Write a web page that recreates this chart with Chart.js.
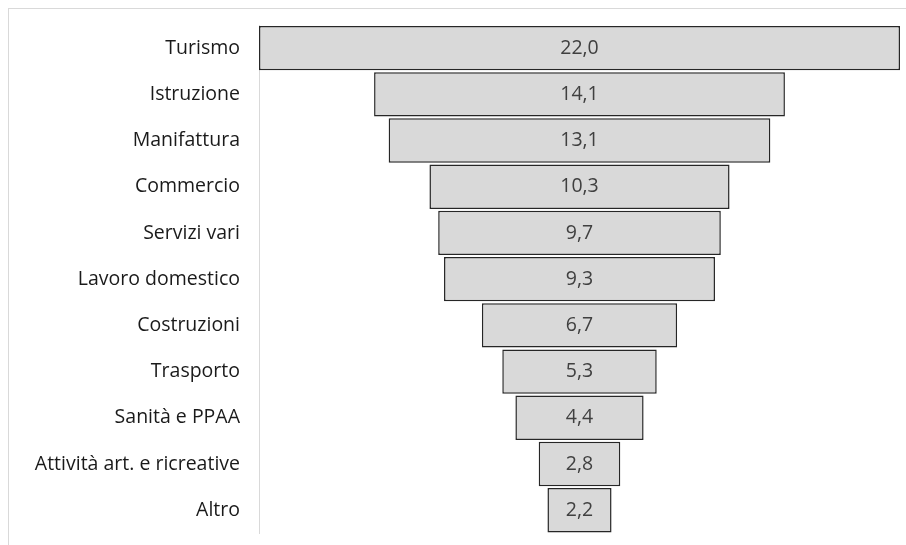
<!DOCTYPE html>
<html>
<head>
<meta charset="utf-8">
<script src="https://cdn.jsdelivr.net/npm/chart.js@4/dist/chart.umd.min.js"></script>
<style>
  html, body { margin: 0; padding: 0; background: #fff; }
  #wrap { width: 906px; height: 545px; position: relative; }
</style>
</head>
<body>
<div id="wrap"><canvas id="c" width="906" height="545"></canvas></div>
<script>
// Sectors and their shares (%), largest first
const categories = [
  "Turismo", "Istruzione", "Manifattura", "Commercio", "Servizi vari",
  "Lavoro domestico", "Costruzioni", "Trasporto", "Sanità e PPAA",
  "Attività art. e ricreative", "Altro"
];
const shares = [22.0, 14.1, 13.1, 10.3, 9.7, 9.3, 6.7, 5.3, 4.4, 2.8, 2.2];

// Funnel: each bar is centred on half of the largest value
const maxShare = Math.max(...shares);
const centre = maxShare / 2;
const funnelRanges = shares.map(v => [centre - v / 2, centre + v / 2]);

const fmt = v => v.toFixed(1).replace('.', ',');
const FONT = '"Open Sans", sans-serif';

// Light frame around the whole chart
const framePlugin = {
  id: 'frame',
  beforeDraw(chart) {
    const ctx = chart.ctx;
    ctx.save();
    ctx.strokeStyle = '#d9d9d9';
    ctx.lineWidth = 1;
    ctx.strokeRect(8.5, 8.5, 920, 560);
    ctx.restore();
  }
};

// Value labels in the middle of each bar
const valuePlugin = {
  id: 'values',
  afterDatasetsDraw(chart) {
    const ctx = chart.ctx;
    const meta = chart.getDatasetMeta(0);
    ctx.save();
    ctx.font = '19.5px ' + FONT;
    ctx.fillStyle = '#404040';
    ctx.textAlign = 'center';
    ctx.textBaseline = 'middle';
    meta.data.forEach((bar, i) => {
      const p = bar.getProps(['x', 'base', 'y'], true);
      ctx.fillText(fmt(shares[i]), (p.x + p.base) / 2, p.y);
    });
    ctx.restore();
  }
};

new Chart(document.getElementById('c'), {
  type: 'bar',
  data: {
    labels: categories,
    datasets: [{
      data: funnelRanges,
      backgroundColor: '#d9d9d9',
      borderColor: '#262626',
      borderWidth: 1.5,
      borderSkipped: false,
      barPercentage: 0.96,
      categoryPercentage: 1.0
    }]
  },
  options: {
    indexAxis: 'y',
    responsive: false,
    animation: false,
    layout: { padding: { left: 0, right: 6, top: 25, bottom: 11 } },
    plugins: {
      legend: { display: false },
      tooltip: { enabled: false }
    },
    scales: {
      x: {
        display: false,
        min: 0,
        max: maxShare
      },
      y: {
        // gap between labels and axis line comes from the (hidden) tick length
        grid: { display: false, drawTicks: true, tickLength: 19 },
        border: { display: true, color: '#d9d9d9', width: 1 },
        ticks: {
          color: '#1a1a1a',
          padding: 0,
          font: { family: FONT, size: 19.5 }
        },
        afterFit(scale) { scale.width = 259; }
      }
    }
  },
  plugins: [framePlugin, valuePlugin]
});
</script>
</body>
</html>
